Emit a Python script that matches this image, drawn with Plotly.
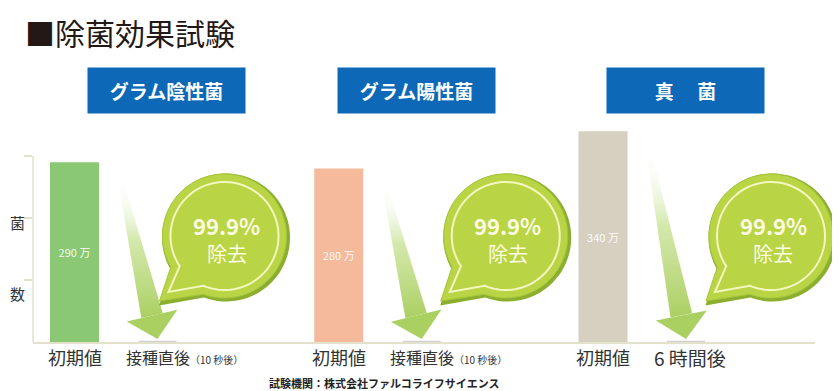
import numpy as np
import plotly.graph_objects as go

# ---------------- data ----------------
groups = ["グラム陰性菌", "グラム陽性菌", "真　 菌"]
initial_values = [290, 280, 340]          # 万
after_values = [0.29, 0.28, 0.34]         # 万 (99.9% removed)
initial_labels = ["290 万", "280 万", "340 万"]
initial_tick = "初期値"
after_ticks = ["接種直後", "接種直後", "6 時間後"]
after_notes = ["（10 秒後）", "（10 秒後）", ""]
removal_pct = ["99.9%", "99.9%", "99.9%"]
removal_word = "除去"
y_side_labels = ["菌", "数"]
title_text = "■除菌効果試験"
footnote = "試験機関：株式会社ファルコライフサイエンス"
bar_colors = ["#8ac874", "#f5b99c", "#d6d0c0"]

# ---------------- layout geometry (page pixels) ----------------
PAGE_OFF = 8                      # page body margin
W, H = 840 - PAGE_OFF, 391 - PAGE_OFF
PLOT_L, PLOT_R, PLOT_T, BASE_PX = 33, 815, 8, 342
ML = PLOT_L - PAGE_OFF
MR = 840 - PLOT_R
MT = PLOT_T - PAGE_OFF
MB = 391 - BASE_PX
PLOT_W = PLOT_R - PLOT_L
PLOT_H = BASE_PX - PLOT_T
X0_PX = 74.5          # page pixel of first group centre
PX_PER_X = 264.25     # pixels per group
PX_PER_Y = 0.62       # pixels per 万
AFTER_OFF_PX = 83
BAR_W_PX = 49
AFTER_W_PX = 36
FONT = "Noto Sans CJK JP"


def px2x(px):
    return (px - X0_PX) / PX_PER_X


def px2y_up(py_up):
    return py_up / PX_PER_Y


def paper_x(px):
    return (px - PLOT_L) / PLOT_W


def paper_y(py):
    return (BASE_PX - py) / PLOT_H


def ann(px, py, text, size, color="#333333", xanchor="center", **kw):
    d = dict(xref="paper", yref="paper", x=paper_x(px), y=paper_y(py), text=text,
             showarrow=False, xanchor=xanchor, yanchor="middle",
             font=dict(size=size, color=color, family=FONT))
    d.update(kw)
    return d


n = len(groups)
x_init = [float(i) for i in range(n)]
x_after = [i + AFTER_OFF_PX / PX_PER_X for i in range(n)]
bar_px = [X0_PX + i * PX_PER_X for i in range(n)]

fig = go.Figure()

# ---------------- arrows (decoration) ----------------
for i in range(n):
    tip = np.array([bar_px[i] + AFTER_OFF_PX, 3.0])
    top = np.array([bar_px[i] + 46, 0.9 * initial_values[i] * PX_PER_Y])
    u = (top - tip) / np.linalg.norm(top - tip)
    nv = np.array([u[1], -u[0]])
    hb = tip + 24 * u
    shaft = [hb + 11 * nv, top + 2.5 * nv, top - 2.5 * nv, hb - 11 * nv]
    head = [tip, hb + 26 * nv, hb - 26 * nv, tip]
    sx = [px2x(p[0]) for p in shaft] + [px2x(shaft[0][0])]
    sy = [px2y_up(p[1]) for p in shaft] + [px2y_up(shaft[0][1])]
    fig.add_trace(go.Scatter(
        x=sx, y=sy, mode="lines", fill="toself", line=dict(width=0),
        fillgradient=dict(type="vertical",
                          colorscale=[[0, "rgba(172,208,100,1)"],
                                      [0.55, "rgba(200,226,150,0.8)"],
                                      [1, "rgba(255,255,255,0.1)"]],
                          start=px2y_up(hb[1]), stop=px2y_up(top[1])),
        hoverinfo="skip", showlegend=False))
    fig.add_trace(go.Scatter(
        x=[px2x(p[0]) for p in head], y=[px2y_up(p[1]) for p in head],
        mode="lines", fill="toself", line=dict(width=0), fillcolor="#abd062",
        hoverinfo="skip", showlegend=False))

# ---------------- bars ----------------
fig.add_trace(go.Bar(
    x=x_init, y=initial_values, width=BAR_W_PX / PX_PER_X,
    marker=dict(color=bar_colors, line=dict(width=0)),
    text=initial_labels, textposition="inside", insidetextanchor="middle",
    textfont=dict(color="rgba(255,255,255,0.95)", size=11, family=FONT),
    textangle=0, hoverinfo="skip", showlegend=False))
fig.add_trace(go.Bar(
    x=x_after, y=after_values, width=AFTER_W_PX / PX_PER_X,
    marker=dict(color="#d4d4d4", line=dict(color="#d0d0d0", width=2)),
    textposition="none", hoverinfo="skip", showlegend=False))

shapes = []
annotations = []

# left axis line
shapes.append(dict(type="line", xref="paper", yref="y", x0=0, x1=0, y0=0, y1=300,
                   line=dict(color="#e2e2cc", width=1.5), layer="below"))


# ---------------- speech bubbles ----------------
def bubble_path(r, tip, a0=250, a1=570, steps=80):
    pts = []
    for a in np.linspace(a0, a1, steps):
        t = np.radians(a)
        pts.append((r * np.cos(t), r * np.sin(t)))
    pts.append(tip)
    return "M " + " L ".join(f"{x:.1f},{y:.1f}" for x, y in pts) + " Z"


bubble_dx = [150, 167, 168]
BUB_CY = 236
for i in range(n):
    cx = bar_px[i] + bubble_dx[i]
    common = dict(type="path", xref="paper", yref="paper", xsizemode="pixel",
                  ysizemode="pixel", xanchor=paper_x(cx), yanchor=paper_y(BUB_CY),
                  layer="above")
    shapes.append(dict(common, xanchor=paper_x(cx + 1.5), yanchor=paper_y(BUB_CY + 1.5),
                       path=bubble_path(64, (-67, -68)), fillcolor="#8cae30",
                       line=dict(width=0)))
    shapes.append(dict(common, path=bubble_path(62, (-65, -65)), fillcolor="#b9d445",
                       line=dict(color="#a6c63a", width=1)))
    shapes.append(dict(common, path=bubble_path(54, (-56, -56), 247, 574),
                       fillcolor="rgba(0,0,0,0)", line=dict(color="#f3f7c0", width=2)))
    annotations.append(ann(cx + 2, BUB_CY - 11, f"<b>{removal_pct[i]}</b>", 22, "#fbfce2"))
    annotations.append(ann(cx + 2, BUB_CY + 18, removal_word, 20, "#fbfce2"))

# ---------------- header boxes ----------------
header_dx = [91.5, 78, 82]
for i in range(n):
    annotations.append(ann(bar_px[i] + header_dx[i], 90.5, f"<b>{groups[i]}</b>", 19, "white",
                           width=157, height=45, bgcolor="#0d68b7", borderpad=0))

# ---------------- category labels ----------------
for i in range(n):
    annotations.append(ann(bar_px[i], 357, initial_tick, 18))
    note = f"<span style='font-size:10px'>{after_notes[i]}</span>" if after_notes[i] else ""
    size = 16 if after_notes[i] else 19
    annotations.append(ann(bar_px[i] + 49, 357, after_ticks[i] + note, size, xanchor="left"))

# side labels
for lbl, py in zip(y_side_labels, [222, 293]):
    annotations.append(ann(17, py, lbl, 15))

# title
annotations.append(ann(23, 32, title_text, 30, "#231815", xanchor="left"))
# footnote
annotations.append(ann(384, 383, f"<b>{footnote}</b>", 11, "#222222"))

fig.update_layout(
    width=W, height=H, margin=dict(l=ML, r=MR, t=MT, b=MB, pad=0),
    paper_bgcolor="white", plot_bgcolor="white", barmode="overlay",
    showlegend=False, shapes=shapes, annotations=annotations,
    xaxis=dict(range=[px2x(PLOT_L), px2x(PLOT_R)], showgrid=False, zeroline=False,
               showline=True, linecolor="#e2e2cc", linewidth=1.5, showticklabels=False,
               ticks="", fixedrange=True),
    yaxis=dict(range=[0, PLOT_H / PX_PER_Y], showgrid=False, zeroline=False,
               showline=False, tickvals=[100, 200, 300], ticks="outside", ticklen=8,
               tickcolor="#e2e2cc", tickwidth=1.5, showticklabels=False, fixedrange=True),
)

fig.write_html("out.html")
